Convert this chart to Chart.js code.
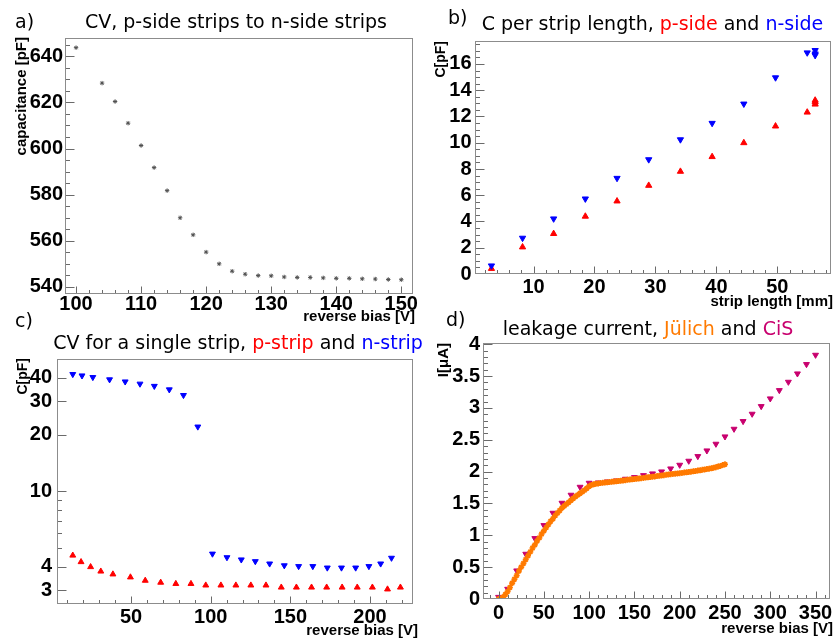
<!DOCTYPE html>
<html><head><meta charset="utf-8">
<script src="https://cdn.jsdelivr.net/npm/chart.js@4.4.1/dist/chart.umd.min.js"></script>
<style>
html,body{margin:0;padding:0;background:#fff;}
#root{position:relative;width:836px;height:639px;overflow:hidden;background:#fff;}
#root canvas{position:absolute;}
.t{position:absolute;white-space:nowrap;line-height:1;}
</style></head><body><div id="root"></div>
<script>
// ---------- Panel a: CV, p-side strips to n-side strips ----------
const aBias = [100,104,106,108,110,112,114,116,118,120,122,124,126,128,130,132,134,136,138,140,142,144,146,148,150];
const aCap  = [643.8,628.4,620.4,611.0,601.3,591.7,581.7,569.9,562.5,555.0,549.9,546.7,545.4,544.8,544.7,544.2,544.0,544.0,543.8,543.6,543.6,543.4,543.3,543.1,543.0];
const aXTicks = [100,110,120,130,140,150];
const aYTicks = [540,560,580,600,620,640];

// ---------- Panel b: C per strip length ----------
const bLength = [3.1,8.2,13.3,18.5,23.7,28.9,34.1,39.3,44.5,49.7,54.9,56.2,56.2,56.2];
const bPside  = [0.41,2.05,3.07,4.39,5.55,6.74,7.81,8.93,9.99,11.26,12.32,12.93,13.10,13.23];
const bNside  = [0.63,2.74,4.21,5.73,7.30,8.72,10.24,11.49,12.96,14.96,16.86,16.66,16.78,17.04];
const bXTicks = [10,20,30,40,50];
const bYTicks = [0,2,4,6,8,10,12,14,16];

// ---------- Panel c: CV for a single strip ----------
const cPBias = [13.4,18.6,24.6,31.0,38.6,49.6,58.9,68.6,78.1,87.6,96.9,106.4,115.8,125.2,134.7,144.3,153.8,163.3,172.8,182.5,192.0,201.5,211.0,219.1];
const cPCap  = [4.59,4.24,3.99,3.78,3.65,3.52,3.38,3.30,3.25,3.25,3.19,3.19,3.19,3.19,3.19,3.11,3.11,3.11,3.11,3.11,3.11,3.11,3.04,3.11];
const cNBias = [13.4,19.2,26.0,36.5,46.3,55.6,64.6,74.0,82.9,91.9,101.1,110.2,119.2,128.0,137.0,146.2,155.2,164.1,173.2,182.1,191.0,199.3,206.7,213.5];
const cNCap  = [41.7,41.0,40.2,39.1,38.1,37.1,36.1,34.6,32.3,22.0,4.68,4.48,4.36,4.27,4.15,4.06,4.02,4.02,3.95,3.95,3.95,4.02,4.15,4.45];
const cXTicks = [50,100,150,200];
const cYTicks = [3,4,10,20,30,40];
const cYMinor = [5,6,7,8,9];

// ---------- Panel d: leakage current ----------
const dCisBias = [0,10,20,30,40,50,60,70,80,90,100,110,120,130,140,150,160,170,180,190,200,210,220,230,240,250,260,270,280,290,300,310,320,330,340,350];
const dCisCurrent = [0.03,0.157,0.445,0.707,0.953,1.157,1.351,1.508,1.634,1.759,1.822,1.827,1.843,1.859,1.885,1.911,1.942,1.969,2.0,2.047,2.105,2.168,2.241,2.330,2.435,2.550,2.670,2.791,2.906,3.026,3.147,3.277,3.408,3.539,3.686,3.832];
const dJulBias = [0,2.5,5,7.5,10,12.5,15,17.5,20,22.5,25,27.5,30,32.5,35,37.5,40,42.5,45,47.5,50,52.5,55,57.5,60,62.5,65,67.5,70,72.5,75,77.5,80,82.5,85,87.5,90,92.5,95,97.5,100,102.5,105,107.5,110,112.5,115,117.5,120,122.5,125,127.5,130,132.5,135,137.5,140,142.5,145,147.5,150,152.5,155,157.5,160,162.5,165,167.5,170,172.5,175,177.5,180,182.5,185,187.5,190,192.5,195,197.5,200,202.5,205,207.5,210,212.5,215,217.5,220,222.5,225,227.5,230,232.5,235,237.5,240,242.5,245,247.5,250];
const dJulCurrent = [0.00,0.005,0.03,0.07,0.12,0.18,0.25,0.31,0.37,0.44,0.50,0.56,0.62,0.68,0.74,0.80,0.85,0.91,0.96,1.02,1.07,1.12,1.17,1.22,1.26,1.31,1.35,1.39,1.43,1.46,1.49,1.52,1.55,1.58,1.61,1.635,1.66,1.685,1.71,1.74,1.77,1.79,1.80,1.81,1.815,1.82,1.824,1.828,1.832,1.836,1.84,1.845,1.849,1.853,1.857,1.862,1.866,1.871,1.875,1.88,1.885,1.889,1.893,1.898,1.902,1.906,1.911,1.915,1.92,1.925,1.93,1.935,1.94,1.945,1.95,1.955,1.96,1.964,1.968,1.972,1.976,1.98,1.985,1.99,1.995,2.0,2.005,2.01,2.016,2.022,2.028,2.034,2.04,2.047,2.054,2.062,2.07,2.08,2.09,2.103,2.115];
const dXTicks = [0,50,100,150,200,250,300,350];
const dYTicks = [0,0.5,1,1.5,2,2.5,3,3.5,4];

// ---------- colours ----------
const RED = '#ff0000', BLUE = '#0000ff', ORANGE = '#ff7a00', CIS = '#c8006e', STAR = '#505050';

// ---------- helpers ----------
const root = document.getElementById('root');
function seq(from, to, step){ const out=[]; for(let i=0;;i++){ const v=+(from+i*step).toFixed(6); if(v>to+1e-9) break; out.push(v);} return out; }
function pts(xs, ys){ const n=Math.min(xs.length, ys.length); const o=[]; for(let i=0;i<n;i++) o.push({x:xs[i], y:ys[i]}); return o; }

const frameTicks = {
  id: 'frameTicks',
  afterDraw(chart, args, o) {
    const {ctx, chartArea: ca} = chart;
    const xs = chart.scales.x, ys = chart.scales.y;
    const L = Math.round(ca.left)+0.5, R = Math.round(ca.right)-0.5, T = Math.round(ca.top)+0.5, B = Math.round(ca.bottom)-0.5;
    ctx.save();
    ctx.lineWidth = 1;
    ctx.strokeStyle = '#6a6a6a';
    const drawX = (vals, len) => vals.forEach(v => {
      const p = xs.getPixelForValue(v);
      if (p < ca.left + 1 || p > ca.right - 1) return;
      const px = Math.round(p) + 0.5;
      ctx.beginPath(); ctx.moveTo(px, B); ctx.lineTo(px, B - len); ctx.stroke();
    });
    const drawY = (vals, len) => vals.forEach(v => {
      const p = ys.getPixelForValue(v);
      if (p < ca.top + 1 || p > ca.bottom - 1) return;
      const py = Math.round(p) + 0.5;
      ctx.beginPath(); ctx.moveTo(L, py); ctx.lineTo(L + len, py); ctx.stroke();
    });
    drawX(o.xMinor, 3.5); drawX(o.xMajor, 7);
    drawY(o.yMinor, 4.5); drawY(o.yMajor, 9);
    ctx.strokeStyle = '#8c8c8c';
    ctx.strokeRect(L, T, R - L, B - T);
    ctx.restore();
  }
};

const tickFont = {family: '"Liberation Sans", Arial, sans-serif', size: 20, weight: 'bold', lineHeight: 1};

function panel(rect, frame, datasets, xCfg, yCfg) {
  const cv = document.createElement('canvas');
  cv.width = rect.w; cv.height = rect.h;
  cv.style.left = rect.x + 'px'; cv.style.top = rect.y + 'px';
  cv.style.width = rect.w + 'px'; cv.style.height = rect.h + 'px';
  root.appendChild(cv);
  return new Chart(cv, {
    type: 'scatter',
    data: {datasets},
    options: {
      responsive: false, animation: false, devicePixelRatio: 1,
      layout: {padding: {left: 0, top: frame.T - rect.y, right: rect.x + rect.w - frame.R, bottom: 0}},
      plugins: {legend: {display: false}, tooltip: {enabled: false},
        frameTicks: {xMajor: xCfg.ticks, xMinor: xCfg.minor, yMajor: yCfg.ticks, yMinor: yCfg.minor}},
      scales: {
        x: {type: 'linear', min: xCfg.min, max: xCfg.max,
            grid: {display: false, drawTicks: false}, border: {display: false},
            ticks: {font: tickFont, color: '#000', padding: xCfg.pad, maxRotation: 0, autoSkip: false, callback: v => String(v)},
            afterBuildTicks: s => { s.ticks = xCfg.ticks.map(v => ({value: v})); },
            afterFit: s => { s.height = rect.y + rect.h - frame.B; s.paddingLeft = 0; s.paddingRight = 0; }},
        y: {type: yCfg.type || 'linear', min: yCfg.min, max: yCfg.max,
            grid: {display: false, drawTicks: false}, border: {display: false},
            ticks: {font: tickFont, color: '#000', padding: yCfg.pad, autoSkip: false, callback: v => String(v)},
            afterBuildTicks: s => { s.ticks = yCfg.ticks.map(v => ({value: v})); },
            afterFit: s => { s.width = frame.L - rect.x; s.paddingTop = 0; s.paddingBottom = 0; }}
      }
    },
    plugins: [frameTicks]
  });
}

function tri(data, color, down, r) {
  return {data, pointStyle: 'triangle', rotation: down ? 180 : 0, pointRadius: r, borderWidth: 1,
          backgroundColor: color, borderColor: color, showLine: false};
}

// Panel a
panel({x:0, y:0, w:418, h:320}, {L:65, T:38, R:415, B:294},
  [{data: pts(aBias, aCap), pointStyle: 'star', pointRadius: 2.2, borderWidth: 1, borderColor: STAR, backgroundColor: STAR}],
  {min: 98.3, max: 151.8, ticks: aXTicks, minor: seq(98, 152, 2), pad: 0},
  {min: 536.8, max: 648.0, ticks: aYTicks, minor: seq(535, 650, 5), pad: 2});

// Panel b
panel({x:418, y:0, w:418, h:320}, {L:475, T:41, R:833, B:274},
  [tri(pts(bLength, bNside), BLUE, true, 3.6), tri(pts(bLength, bPside), RED, false, 3.6)],
  {min: 0.4, max: 58.8, ticks: bXTicks, minor: seq(2, 58, 2), pad: 3},
  {min: 0, max: 17.75, ticks: bYTicks, minor: seq(0, 17.5, 0.5), pad: 3.5});

// Panel c
panel({x:0, y:320, w:418, h:319}, {L:57, T:359, R:417, B:604},
  [tri(pts(cNBias, cNCap), BLUE, true, 3.4), tri(pts(cPBias, cPCap), RED, false, 3.4)],
  {min: 3.5, max: 227, ticks: cXTicks, minor: seq(10, 220, 10), pad: 3},
  {type: 'logarithmic', min: 2.54, max: 50.2, ticks: cYTicks, minor: cYMinor, pad: 5});

// Panel d
panel({x:418, y:320, w:418, h:319}, {L:483, T:343, R:833, B:599},
  [{data: pts(dJulBias, dJulCurrent), pointStyle: 'star', pointRadius: 3, borderWidth: 1.6, borderColor: ORANGE, backgroundColor: ORANGE},
   tri(pts(dCisBias, dCisCurrent), CIS, true, 3.4)],
  {min: -17.2, max: 366.4, ticks: dXTicks, minor: seq(-10, 360, 10), pad: 4},
  {min: 0, max: 4.02, ticks: dYTicks, minor: seq(0, 4, 0.1), pad: 3});

// ---------- text ----------
const TITLE_FONT = '"DejaVu Sans", sans-serif';
const AXIS_FONT = '"Liberation Sans", Arial, sans-serif';
function addText(parts, o) {
  const d = document.createElement('div');
  d.className = 't';
  d.style.fontFamily = o.font; d.style.fontSize = o.size + 'px';
  if (o.bold) d.style.fontWeight = 'bold';
  parts.forEach(p => { const s = document.createElement('span'); s.textContent = p[0]; s.style.color = p[1] || '#000'; d.appendChild(s); });
  const top = o.baseline - 0.846 * o.size;
  if (o.rotate) {
    d.style.width = '200px'; d.style.textAlign = 'right';
    d.style.left = (o.x - 0.846 * o.size) + 'px';
    d.style.top = (o.end + 200) + 'px';
    d.style.transformOrigin = 'left top';
    d.style.transform = 'rotate(-90deg)';
  } else if (o.align === 'center') {
    d.style.width = '600px'; d.style.textAlign = 'center';
    d.style.left = (o.x - 300) + 'px'; d.style.top = top + 'px';
  } else if (o.align === 'right') {
    d.style.width = '300px'; d.style.textAlign = 'right';
    d.style.left = (o.x - 300) + 'px'; d.style.top = top + 'px';
  } else {
    d.style.left = o.x + 'px'; d.style.top = top + 'px';
  }
  root.appendChild(d);
}
const T = {font: TITLE_FONT, size: 19};
addText([['a)']], {...T, x: 15, baseline: 28});
addText([['CV, p-side strips to n-side strips']], {...T, x: 236, baseline: 28.5, align: 'center'});
addText([['b)']], {...T, x: 448, baseline: 24.5});
addText([['C per strip length, '], ['p-side', RED], [' and '], ['n-side', BLUE]], {...T, x: 652.5, baseline: 30.5, align: 'center'});
addText([['c)']], {...T, x: 15, baseline: 327});
addText([['CV for a single strip, '], ['p-strip', RED], [' and '], ['n-strip', BLUE]], {...T, x: 238, baseline: 349.5, align: 'center'});
addText([['d)']], {...T, x: 446, baseline: 326});
addText([['leakage current, '], ['Jülich', ORANGE], [' and '], ['CiS', CIS]], {...T, x: 648, baseline: 335, align: 'center'});
const A = {font: AXIS_FONT, size: 15, bold: true};
addText([['reverse bias [V]']], {...A, x: 415, baseline: 321, align: 'right'});
addText([['strip length [mm]']], {...A, x: 833, baseline: 305.5, align: 'right'});
addText([['reverse bias [V]']], {...A, x: 418, baseline: 635, align: 'right'});
addText([['reverse bias [V]']], {...A, x: 833, baseline: 632.5, align: 'right'});
addText([['capacitance [pF]']], {...A, x: 25.5, end: 37, rotate: true});
addText([['C[pF]']], {...A, size: 14, x: 445.3, end: 40.7, rotate: true});
addText([['C[pF]']], {...A, size: 14, x: 26.7, end: 358, rotate: true});
addText([['I[μA]']], {...A, size: 15, x: 448, end: 343, rotate: true});
</script>
</body></html>
